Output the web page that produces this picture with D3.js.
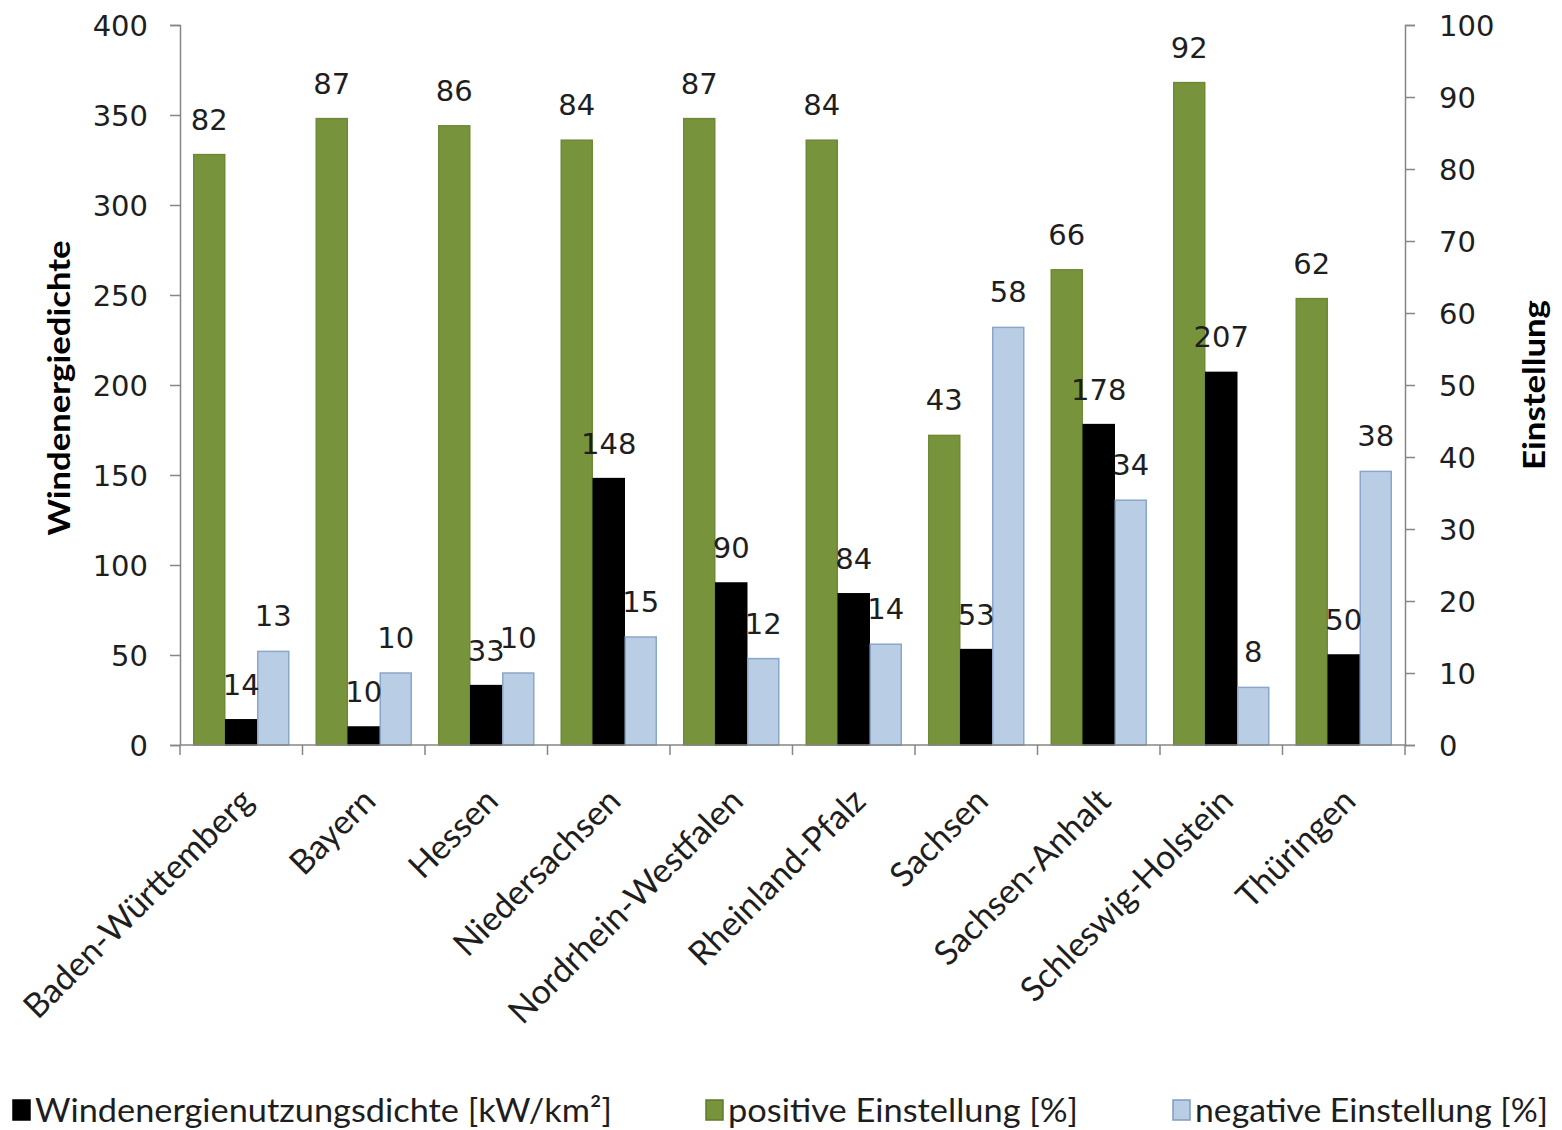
<!DOCTYPE html>
<meta charset="utf-8">
<style>
 body { margin: 0; background: #fff; }
 svg { display: block; }
 .axis path, .axis line { stroke: #868686; }
 .val { font-family: "DejaVu Sans"; font-size: 29px; fill: #1e1e1e; }
 .tick text { font-family: "DejaVu Sans"; font-size: 29px; fill: #1e1e1e; }
 .cat { font-family: Lato; font-size: 34px; fill: #1e1e1e; }
 .title { font-family: Lato; font-weight: 700; font-size: 30px; fill: #000; }
 .legend text { font-family: Lato; font-size: 33px; fill: #1e1e1e; }
</style>
<body>
<div id="chart"></div>
<script src="https://cdnjs.cloudflare.com/ajax/libs/d3/7.8.5/d3.min.js"></script>
<script>
var categories = ['Baden-Württemberg', 'Bayern', 'Hessen', 'Niedersachsen', 'Nordrhein-Westfalen',
                  'Rheinland-Pfalz', 'Sachsen', 'Sachsen-Anhalt', 'Schleswig-Holstein', 'Thüringen'];
var density = [14, 10, 33, 148, 90, 84, 53, 178, 207, 50];     // kW/km², left axis
var positive = [82, 87, 86, 84, 87, 84, 43, 66, 92, 62];       // %, right axis
var negative = [13, 10, 10, 15, 12, 14, 58, 34, 8, 38];        // %, right axis
var leftTicks = [0, 50, 100, 150, 200, 250, 300, 350, 400];
var rightTicks = [0, 10, 20, 30, 40, 50, 60, 70, 80, 90, 100];

(function(){
  var width = 1562, height = 1130;
  var left = 180, right = 1405, top = 25, bottom = 745;

  var svg = d3.select('#chart').append('svg')
      .attr('width', width)
      .attr('height', height);

  var x = d3.scaleBand().domain(categories).range([left, right]);
  var xs = d3.scaleBand().domain(['pos', 'dens', 'neg'])
      .range([0, x.bandwidth()]).paddingOuter(0.414);
  var yL = d3.scaleLinear().domain([0, 400]).range([bottom, top]);
  var yR = d3.scaleLinear().domain([0, 100]).range([bottom, top]);

  var series = [
    {key: 'pos', values: positive, y: yR, fill: '#77933c', stroke: '#6e8a37'},
    {key: 'dens', values: density, y: yL, fill: '#000000', stroke: '#000000'},
    {key: 'neg', values: negative, y: yR, fill: '#b9cde5', stroke: '#8aa6c8'}
  ];

  // bars
  series.forEach(function(s) {
    var g = svg.append('g');
    g.selectAll('rect').data(s.values).enter()
      .append('rect')
      .attr('x', function(d, i) { return x(categories[i]) + xs(s.key) + 0.5; })
      .attr('y', function(d) { return s.y(d); })
      .attr('width', xs.bandwidth() - 1)
      .attr('height', function(d) { return bottom - s.y(d); })
      .attr('fill', s.fill)
      .attr('stroke', s.stroke)
      .attr('stroke-width', 1.5);
  });

  // value labels
  series.forEach(function(s) {
    svg.append('g').selectAll('text').data(s.values).enter()
      .append('text')
      .attr('class', 'val')
      .attr('text-anchor', 'middle')
      .attr('x', function(d, i) { return x(categories[i]) + xs(s.key) + xs.bandwidth() / 2; })
      .attr('y', function(d) { return s.y(d) - 25; })
      .text(function(d) { return d; });
  });

  // axes
  var axL = svg.append('g').attr('class', 'axis')
      .attr('transform', 'translate(' + left + ',0)')
      .call(d3.axisLeft(yL).tickValues(leftTicks).tickSize(10).tickSizeOuter(10).tickPadding(22));
  var axR = svg.append('g').attr('class', 'axis')
      .attr('transform', 'translate(' + right + ',0)')
      .call(d3.axisRight(yR).tickValues(rightTicks).tickSize(10).tickSizeOuter(10).tickPadding(24));
  [axL, axR].forEach(function(a) {
    a.selectAll('line').attr('stroke-width', 1.5);
    a.select('.domain').attr('stroke-width', 1.5);
    a.selectAll('.tick text').attr('dy', '0.36em');
  });

  // category axis with ticks at band borders
  var bounds = categories.map(function(c) { return x(c); }).concat([right]);
  var axX = svg.append('g').attr('class', 'axis');
  axX.append('line')
    .attr('x1', left).attr('x2', right).attr('y1', bottom).attr('y2', bottom)
    .attr('stroke-width', 1.5);
  axX.selectAll('.tk').data(bounds).enter()
    .append('line')
    .attr('class', 'tk')
    .attr('x1', function(d) { return d; }).attr('x2', function(d) { return d; })
    .attr('y1', bottom).attr('y2', bottom + 10)
    .attr('stroke-width', 1.5);

  svg.append('g').selectAll('text').data(categories).enter()
    .append('text')
    .attr('class', 'cat')
    .attr('text-anchor', 'end')
    .attr('transform', function(d) {
      return 'translate(' + (x(d) + x.bandwidth() / 2 + 14) + ',' + 803 + ') rotate(-45)';
    })
    .text(function(d) { return d; });

  // axis titles
  svg.append('text').attr('class', 'title')
    .attr('text-anchor', 'middle')
    .attr('transform', 'translate(70,388) rotate(-90)')
    .attr('textLength', 295).attr('lengthAdjust', 'spacingAndGlyphs')
    .text('Windenergiedichte');
  svg.append('text').attr('class', 'title')
    .attr('text-anchor', 'middle')
    .attr('transform', 'translate(1545,385) rotate(-90)')
    .attr('textLength', 170).attr('lengthAdjust', 'spacingAndGlyphs')
    .text('Einstellung');

  // legend
  var legend = [
    {label: 'Windenergienutzungsdichte [kW/km²]', fill: '#000000', stroke: '#000000', x: 12, len: 577},
    {label: 'positive Einstellung [%]', fill: '#77933c', stroke: '#5f7a2c', x: 705, len: 350},
    {label: 'negative Einstellung [%]', fill: '#b9cde5', stroke: '#7f9cc0', x: 1172, len: 353}
  ];
  var lg = svg.append('g').attr('class', 'legend');
  var item = lg.selectAll('g').data(legend).enter().append('g')
    .attr('transform', function(d) { return 'translate(' + d.x + ',1100)'; });
  item.append('rect')
    .attr('x', 1).attr('y', 0).attr('width', 17).attr('height', 20)
    .attr('fill', function(d) { return d.fill; })
    .attr('stroke', function(d) { return d.stroke; })
    .attr('stroke-width', 1.5);
  item.append('text')
    .attr('x', 23).attr('y', 22)
    .attr('textLength', function(d) { return d.len; })
    .attr('lengthAdjust', 'spacingAndGlyphs')
    .text(function(d) { return d.label; });
})();
</script>
</body>
